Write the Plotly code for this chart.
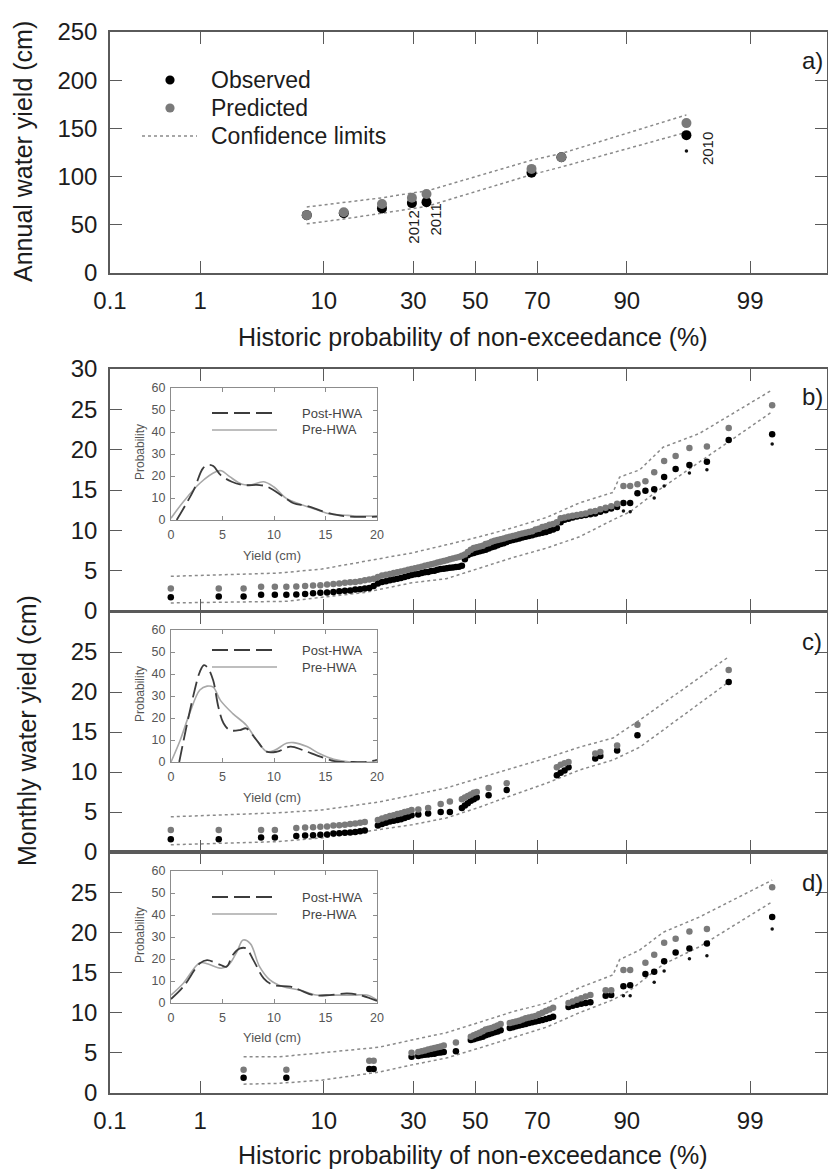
import plotly.graph_objects as go
from statistics import NormalDist

# ---------------- data ----------------
prob_ticks = [0.1, 1, 10, 30, 50, 70, 90, 99]
prob_labels = ["0.1", "1", "10", "30", "50", "70", "90", "99"]

# Panel a (annual)
p_a = [7.7, 13.3, 21.5, 29.6, 34.0, 68.3, 76.7, 96.3]
obs_a = [60, 62, 67, 72.5, 73.5, 104, 120, 143]
pred_a = [60, 63, 71.5, 78, 82, 108, 120, 155.5]
conf_up_a = [68.5, 73, 78, 83, 85, 117, 124, 164]
conf_lo_a = [51, 56, 62, 67, 69, 102, 110, 146]
star_p_a = [96.3]
star_a = [126.5]
year_labels = ["2012", "2011", "2010"]
year_p = [29.6, 34.0, 96.3]
year_y = [48, 55, 129]
year_shift = [2, 9, 21]

# Panel b (all months)
p_b = [0.5, 1.5, 2.5, 3.5, 4.5, 5.5, 6.5, 7.5, 8.5, 9.5,
       10.5, 11.5, 12.5, 13.5, 14.5, 15.5, 16.5, 17.5, 18.5, 19.5,
       20.5, 21.5, 22.5, 23.5, 24.5, 25.5, 26.5, 27.5, 28.5, 29.5,
       30.5, 31.5, 32.5, 33.5, 34.5, 35.5, 36.5, 37.5, 38.5, 39.5,
       40.5, 41.5, 42.5, 43.5, 44.5, 45.5, 46.5, 47.5, 48.5, 49.5,
       50.5, 51.5, 52.5, 53.5, 54.5, 55.5, 56.5, 57.5, 58.5, 59.5,
       60.5, 61.5, 62.5, 63.5, 64.5, 65.5, 66.5, 67.5, 68.5, 69.5,
       70.5, 71.5, 72.5, 73.5, 74.5, 75.5, 76.5, 77.5, 78.5, 79.5,
       80.5, 81.5, 82.5, 83.5, 84.5, 85.5, 86.5, 87.5, 88.5, 89.5,
       90.5, 91.5, 92.5, 93.5, 94.5, 95.5, 96.5, 97.5, 98.4, 99.4]
obs_b = [1.7, 1.8, 1.8, 2.0, 2.0, 2.0, 2.05, 2.1, 2.2, 2.25,
         2.3, 2.35, 2.45, 2.5, 2.55, 2.65, 2.7, 2.8, 2.85, 3.1,
         3.4, 3.6, 3.7, 3.8, 3.9, 4.0, 4.1, 4.2, 4.35, 4.45,
         4.55, 4.6, 4.7, 4.8, 4.85, 4.95, 5.0, 5.1, 5.2, 5.25,
         5.3, 5.35, 5.4, 5.45, 5.5, 5.6, 6.4, 6.9, 7.1, 7.2,
         7.3, 7.4, 7.5, 7.6, 7.75, 7.9, 8.0, 8.15, 8.3, 8.4,
         8.55, 8.7, 8.8, 8.9, 9.0, 9.1, 9.2, 9.3, 9.4, 9.5,
         9.6, 9.7, 9.8, 9.95, 10.1, 10.3, 11.0, 11.3, 11.45, 11.6,
         11.7, 11.8, 11.9, 12.0, 12.1, 12.3, 12.5, 12.7, 12.9, 13.4,
         13.4, 14.6, 14.9, 15.1, 16.6, 17.6, 18.1, 18.5, 21.2, 21.9]
pred_b = [2.8, 2.8, 2.8, 3.0, 3.0, 3.0, 3.05, 3.1, 3.15, 3.2,
          3.3, 3.35, 3.4, 3.5, 3.55, 3.6, 3.7, 3.8, 3.9, 4.0,
          4.2, 4.4, 4.5, 4.6, 4.7, 4.8, 4.9, 5.0, 5.1, 5.2,
          5.3, 5.4, 5.5, 5.6, 5.7, 5.8, 5.9, 6.0, 6.1, 6.2,
          6.3, 6.4, 6.5, 6.6, 6.7, 6.85, 7.0, 7.3, 7.6, 7.8,
          7.9, 8.0, 8.1, 8.3, 8.4, 8.6, 8.7, 8.8, 8.9, 9.0,
          9.1, 9.2, 9.3, 9.4, 9.5, 9.6, 9.7, 9.8, 9.9, 10.1,
          10.2, 10.4, 10.5, 10.7, 10.8, 11.0, 11.5, 11.6, 11.7, 11.8,
          11.9, 12.0, 12.1, 12.3, 12.4, 12.6, 12.8, 13.0, 13.3, 15.5,
          15.5, 15.7, 16.1, 17.2, 18.6, 19.2, 20.2, 20.4, 22.7, 25.5]
star_p_b = [89.5, 90.5, 93.5, 94.5, 96.5, 97.5, 99.4]
star_b = [12.4, 12.3, 14.0, 15.5, 17.1, 17.5, 20.7]
conf_up_p_b = [0.5, 4.8, 9.7, 20.8, 29.6, 40.3, 51.4, 62.3, 72.7, 81.1, 87.8, 88.9, 91.8, 94.4, 97.1, 99.4]
conf_up_b = [4.3, 4.7, 5.2, 6.5, 7.2, 8.2, 9.2, 10.3, 11.6, 13.4, 14.7, 16.6, 17.5, 20.3, 22.0, 27.4]
conf_lo_p_b = [0.5, 5.5, 17.5, 29.6, 40.3, 51.4, 62.3, 72.7, 81.1, 87.8, 90.5, 93.5, 96.5, 98.4, 99.4]
conf_lo_b = [1.0, 1.2, 2.3, 3.5, 4.0, 5.3, 6.6, 7.8, 9.2, 11.3, 12.3, 14.6, 17.6, 21.0, 24.7]

# Panel c (post-HWA months)
p_c = [0.5, 1.5, 3.5, 4.5,
       6.5, 7.5, 8.5, 9.5, 10.5, 11.5, 12.5, 13.5, 14.5, 15.5, 16.5, 17.5,
       20.5, 21.5, 22.5, 23.5, 24.5, 25.5, 26.5, 27.5, 28.5, 29.5,
       31.5, 34.5, 38.5, 41.5,
       45.5, 46.5, 47.5, 48.5, 49.5, 50.5,
       54.5, 60.5,
       75.5, 76.5, 77.5, 78.5,
       84.5, 85.5, 88.5, 91.5, 98.4]
obs_c = [1.6, 1.6, 1.8, 1.8,
         2.0, 2.05, 2.1, 2.15, 2.2, 2.3, 2.35, 2.4, 2.45, 2.5, 2.6, 2.7,
         3.3, 3.5, 3.65, 3.8, 3.9, 4.0, 4.1, 4.25, 4.4, 4.6,
         4.7, 4.8, 5.0, 5.0,
         5.5, 5.8, 6.1, 6.4, 6.6, 6.8,
         7.1, 7.75,
         9.6, 9.9, 10.2, 10.6,
         11.7, 12.0, 12.7, 14.6, 21.25]
pred_c = [2.75, 2.75, 2.75, 2.75,
          3.0, 3.05, 3.1, 3.15, 3.2, 3.3, 3.35, 3.4, 3.5, 3.55, 3.65, 3.75,
          4.0, 4.2, 4.35, 4.5, 4.6, 4.75, 4.85, 5.0, 5.1, 5.25,
          5.3, 5.5, 6.0, 6.3,
          6.6, 6.8, 7.0, 7.2, 7.4, 7.5,
          8.0, 8.6,
          10.6, 10.9, 11.1, 11.25,
          12.3, 12.5, 13.3, 15.9, 22.75]
conf_up_p_c = [0.5, 4.8, 9.7, 20.8, 29.6, 40.3, 51.4, 62.3, 72.7, 81.1, 87.8, 91.8, 98.4]
conf_up_c = [4.4, 4.9, 5.25, 6.25, 7.1, 8.0, 9.25, 10.5, 11.75, 13.1, 14.25, 16.5, 24.4]
conf_lo_p_c = [0.5, 4.8, 9.7, 20.8, 29.6, 40.3, 51.4, 62.3, 72.7, 81.1, 87.8, 91.8, 98.4]
conf_lo_c = [0.9, 1.3, 1.75, 2.75, 3.4, 4.25, 5.6, 7.1, 8.6, 10.25, 11.5, 13.1, 21.25]

# Panel d (pre-HWA months)
p_d = [2.5, 5.5, 18.5, 19.5, 29.5, 31.5, 32.5, 33.5, 34.5, 35.5, 36.5, 37.5, 38.5, 39.5,
       43.5, 48.5, 49.5, 50.5, 51.5, 52.5, 53.5, 54.5, 55.5, 56.5, 57.5, 58.5,
       61.5, 62.5, 63.5, 64.5, 65.5, 66.5, 67.5, 68.5, 69.5, 70.5, 71.5, 72.5, 73.5, 74.5,
       78.5, 79.5, 80.5, 81.5, 82.5, 83.5, 86.5, 87.5, 89.5, 90.5,
       92.5, 93.5, 94.5, 95.5, 96.5, 97.5, 99.4]
obs_d = [1.9, 1.9, 3.0, 3.0, 4.5, 4.6, 4.7, 4.75, 4.8, 4.85, 4.9, 5.0, 5.05, 5.1,
         5.2, 6.6, 6.7, 6.8, 6.9, 7.0, 7.2, 7.3, 7.45, 7.55, 7.65, 7.8,
         8.1, 8.2, 8.3, 8.4, 8.5, 8.6, 8.7, 8.8, 8.9, 9.0, 9.1, 9.2, 9.35, 9.5,
         10.7, 10.85, 11.0, 11.1, 11.2, 11.3, 12.1, 12.2, 13.3, 13.4,
         14.8, 15.1, 16.4, 17.5, 18.0, 18.6, 21.9]
pred_d = [2.9, 2.9, 4.0, 4.0, 5.0, 5.1, 5.2, 5.3, 5.4, 5.5, 5.6, 5.7, 5.8, 5.9,
          6.3, 7.0, 7.2, 7.35, 7.5, 7.7, 7.9, 8.0, 8.1, 8.25, 8.4, 8.6,
          8.7, 8.8, 8.9, 9.0, 9.15, 9.3, 9.4, 9.5, 9.6, 9.8, 10.0, 10.2, 10.4, 10.6,
          11.2, 11.4, 11.6, 11.8, 12.0, 12.2, 12.8, 12.8, 15.3, 15.3,
          16.2, 17.2, 18.7, 19.2, 20.1, 20.4, 25.6]
star_p_d = [89.5, 90.5, 93.5, 94.5, 96.5, 97.5, 99.4]
star_d = [12.1, 12.1, 13.8, 15.2, 16.7, 17.1, 20.4]
conf_up_p_d = [2.5, 4.8, 9.7, 20.8, 29.6, 40.3, 51.4, 62.3, 72.7, 81.1, 87.8, 88.9, 91.8, 94.4, 97.1, 99.4]
conf_up_d = [4.5, 4.5, 5.0, 5.7, 6.6, 7.5, 8.8, 10.1, 11.2, 13.1, 14.7, 16.6, 17.8, 20.0, 21.9, 26.5]
conf_lo_p_d = [2.5, 4.8, 9.7, 20.8, 29.6, 40.3, 51.4, 62.3, 72.7, 81.1, 87.8, 90.5, 94.4, 97.1, 99.4]
conf_lo_d = [1.1, 1.2, 1.6, 2.6, 3.5, 4.35, 5.6, 6.85, 8.2, 10.0, 11.6, 12.8, 16.0, 18.2, 23.8]

# Insets: probability density of monthly yield
post_x_b = [0.55, 2.2, 3.1, 3.6, 4.1, 4.8, 5.9, 7.0, 8.6, 9.4, 10.9, 11.9, 13.2, 14.8, 16.1, 17.4, 20.0]
post_y_b = [0, 13.6, 23.5, 25, 24.5, 20.5, 17.4, 15.9, 15.9, 15, 10.6, 7.6, 6.4, 3.8, 2.3, 1.5, 1.5]
pre_x_b = [0, 1.2, 2.8, 4.4, 4.9, 5.7, 6.9, 7.7, 9.0, 10.0, 11.2, 12.5, 14.1, 15.4, 16.7, 18.0, 20.0]
pre_y_b = [0.8, 8.3, 16.7, 22, 22.4, 19.7, 16.2, 15.9, 17.4, 15, 9.8, 7.3, 4.8, 2.7, 2.3, 1.8, 1.8]

post_x_c = [0.8, 1.5, 2.3, 2.8, 3.2, 3.6, 4.1, 4.6, 5.1, 5.7, 6.7, 7.3, 8.3, 9.3, 10.3, 11.6, 12.8, 14.5, 16.1, 17.7, 19.0, 20.0]
post_y_c = [0, 16, 32.7, 41, 44, 42.6, 37, 25, 17.6, 14.5, 14.5, 15.3, 10, 4.7, 4.7, 7, 5.4, 2.4, 0.2, 0, 0, 1]
pre_x_c = [0, 0.9, 1.8, 2.8, 3.5, 4.1, 4.8, 6.0, 7.3, 8.3, 9.3, 10.1, 11.2, 11.9, 13.2, 14.5, 15.8, 17.4, 20.0]
pre_y_c = [0, 10, 22, 32.7, 34.5, 34, 28, 22, 16.8, 10, 4.7, 5.4, 8.5, 8.8, 7, 3.6, 1.2, 0, 0]

post_x_d = [0, 1.2, 2.8, 3.5, 4.8, 5.4, 6.0, 6.7, 7.3, 8.0, 9.0, 9.9, 11.6, 12.5, 13.8, 15.4, 17.1, 18.3, 20.0]
post_y_d = [1.8, 7.4, 18, 19.5, 17.3, 16.5, 21.8, 24.8, 24.8, 19.5, 11.2, 8.2, 7.4, 5.9, 3.6, 3.6, 4.4, 3.6, 1]
pre_x_d = [0, 1.2, 2.8, 3.6, 4.9, 5.6, 6.4, 7.0, 7.7, 8.6, 9.6, 10.9, 12.5, 14.1, 15.8, 17.7, 19.0, 20.0]
pre_y_d = [3.6, 9, 18.3, 17.7, 15.8, 17.3, 23.3, 28.6, 27, 16.5, 10.5, 7.4, 5.9, 3.6, 3.6, 3.6, 3.6, 1.4]

legend_main = ["Observed", "Predicted", "Confidence limits"]
legend_inset = ["Post-HWA", "Pre-HWA"]

# ---------------- helpers ----------------
ND = NormalDist()


def z(p_list):
    return [ND.inv_cdf(p / 100.0) for p in p_list]


W, H = 828, 1169


def fx(px):
    return px / W


def fy(py):
    return 1 - py / H


FONT = "Liberation Sans, Arial, Helvetica, sans-serif"
TXT = "#1c1c1c"
AX = "#5a5a5a"
GRAY = "#7a7a7a"
CONF = "#8a8a8a"
PRE_C = "#a8a8a8"
POST_C = "#3c3c3c"
POST_DASH = "16px,6px"

fig = go.Figure()

panels = [
    ("x", "y", p_a, obs_a, pred_a, star_p_a, star_a, p_a, conf_up_a, p_a, conf_lo_a, 10),
    ("x2", "y2", p_b, obs_b, pred_b, star_p_b, star_b, conf_up_p_b, conf_up_b, conf_lo_p_b, conf_lo_b, 6.5),
    ("x3", "y3", p_c, obs_c, pred_c, [], [], conf_up_p_c, conf_up_c, conf_lo_p_c, conf_lo_c, 6.5),
    ("x4", "y4", p_d, obs_d, pred_d, star_p_d, star_d, conf_up_p_d, conf_up_d, conf_lo_p_d, conf_lo_d, 6.5),
]

for xa, ya, pp, ob, pr, sp, sv, cup, cu, clp, cl, ms in panels:
    fig.add_trace(go.Scatter(x=z(cup), y=cu, xaxis=xa, yaxis=ya, mode="lines",
                             line=dict(color=CONF, width=1.5, dash="dot"),
                             name="Confidence limits", hoverinfo="skip"))
    fig.add_trace(go.Scatter(x=z(clp), y=cl, xaxis=xa, yaxis=ya, mode="lines",
                             line=dict(color=CONF, width=1.5, dash="dot"),
                             name="Confidence limits", hoverinfo="skip"))
    fig.add_trace(go.Scatter(x=z(pp), y=ob, xaxis=xa, yaxis=ya, mode="markers",
                             marker=dict(color="#000000", size=ms, line=dict(width=0)),
                             name="Observed"))
    fig.add_trace(go.Scatter(x=z(pp), y=pr, xaxis=xa, yaxis=ya, mode="markers",
                             marker=dict(color=GRAY, size=ms, line=dict(width=0)),
                             name="Predicted"))
    if sp:
        fig.add_trace(go.Scatter(x=z(sp), y=sv, xaxis=xa, yaxis=ya, mode="markers",
                                 marker=dict(color="#111111", size=3.5, line=dict(width=0)),
                                 name="*"))

insets = [
    ("x5", "y5", post_x_b, post_y_b, pre_x_b, pre_y_b),
    ("x6", "y6", post_x_c, post_y_c, pre_x_c, pre_y_c),
    ("x7", "y7", post_x_d, post_y_d, pre_x_d, pre_y_d),
]
for xa, ya, px_, py_, qx, qy in insets:
    fig.add_trace(go.Scatter(x=qx, y=qy, xaxis=xa, yaxis=ya, mode="lines",
                             line=dict(color=PRE_C, width=1.6, shape="spline"),
                             name="Pre-HWA"))
    fig.add_trace(go.Scatter(x=px_, y=py_, xaxis=xa, yaxis=ya, mode="lines",
                             line=dict(color=POST_C, width=1.8, dash=POST_DASH, shape="spline"),
                             name="Post-HWA"))

# ---------------- axes ----------------
xl = ND.inv_cdf(0.001)
xr = 2.976
xt = z(prob_ticks)


def main_x(show_labels, anchor):
    return dict(domain=[fx(110), fx(827)], range=[xl, xr], anchor=anchor, automargin=False,
                tickvals=xt, ticktext=prob_labels, ticks="inside", ticklen=12,
                tickwidth=1.3, tickcolor=AX, showline=True, linecolor=AX, linewidth=1.5,
                mirror="ticks", showgrid=False, zeroline=False,
                showticklabels=show_labels, ticklabelstandoff=5,
                tickfont=dict(size=24, color=TXT, family=FONT))


def main_y(dom, rng, tv, tt, anchor):
    return dict(domain=dom, range=rng, anchor=anchor, tickvals=tv, ticktext=tt,
                automargin=False,
                ticks="inside", ticklen=12, tickwidth=1.3, tickcolor=AX,
                showline=True, linecolor=AX, linewidth=1.5, mirror="ticks",
                showgrid=False, zeroline=False, ticklabelstandoff=6,
                tickfont=dict(size=24, color=TXT, family=FONT))


def inset_x(anchor):
    return dict(domain=[fx(171), fx(377)], range=[0, 20], anchor=anchor, automargin=False,
                tickvals=[0, 5, 10, 15, 20], ticks="inside", ticklen=4, tickwidth=1,
                tickcolor="#8c8c8c", showline=True, linecolor="#8c8c8c", linewidth=1.2,
                mirror="ticks", showgrid=False, zeroline=False, ticklabelstandoff=3,
                tickfont=dict(size=12.5, color="#555555", family=FONT))


def inset_y(dom, anchor):
    return dict(domain=dom, range=[0, 60], anchor=anchor, automargin=False,
                tickvals=[0, 10, 20, 30, 40, 50, 60], ticks="inside", ticklen=4, tickwidth=1,
                tickcolor="#8c8c8c", showline=True, linecolor="#8c8c8c", linewidth=1.2,
                mirror="ticks", showgrid=False, zeroline=False, ticklabelstandoff=2,
                tickfont=dict(size=12.5, color="#555555", family=FONT))


y_a_vals = [0, 50, 100, 150, 200, 250]
y_m_vals = [0, 5, 10, 15, 20, 25, 30]
y_b_text = ["0", "5", "10", "15", "20", "25", "30"]
y_cd_text = ["0", "5", "10", "15", "20", "25", ""]

fig.update_layout(
    template="none",
    width=W, height=H, margin=dict(l=0, r=0, t=0, b=0, pad=0, autoexpand=False),
    paper_bgcolor="white", plot_bgcolor="rgba(0,0,0,0)",
    font=dict(family=FONT, color=TXT),
    showlegend=False,
    xaxis=main_x(True, "y"),
    yaxis=main_y([fy(273), fy(32)], [0, 250], y_a_vals, [str(v) for v in y_a_vals], "x"),
    xaxis2=main_x(False, "y2"),
    yaxis2=main_y([fy(611), fy(369)], [0, 30], y_m_vals, y_b_text, "x2"),
    xaxis3=main_x(False, "y3"),
    yaxis3=main_y([fy(852), fy(612)], [0, 30], y_m_vals, y_cd_text, "x3"),
    xaxis4=main_x(True, "y4"),
    yaxis4=main_y([fy(1093), fy(852)], [0, 30], y_m_vals, y_cd_text, "x4"),
    xaxis5=inset_x("y5"), yaxis5=inset_y([fy(520), fy(388)], "x5"),
    xaxis6=inset_x("y6"), yaxis6=inset_y([fy(762), fy(630)], "x6"),
    xaxis7=inset_x("y7"), yaxis7=inset_y([fy(1003), fy(871)], "x7"),
)

# ---------------- legends (keys drawn in paper space) ----------------
shapes = []
ann = []
r = 4.6
for (cy, col) in [(80, "#000000"), (108, GRAY)]:
    shapes.append(dict(type="circle", xref="paper", yref="paper",
                       x0=fx(170 - r), x1=fx(170 + r), y0=fy(cy + r), y1=fy(cy - r),
                       fillcolor=col, line=dict(width=0)))
shapes.append(dict(type="line", xref="paper", yref="paper", x0=fx(142), x1=fx(197),
                   y0=fy(136), y1=fy(136), line=dict(color=CONF, width=1.5, dash="dot")))
for txt, cy in zip(legend_main, [80, 108, 136]):
    ann.append(dict(text=txt, x=fx(209), y=fy(cy), xanchor="left", yanchor="middle",
                    font=dict(size=23, color=TXT)))

for y_post in [413, 650, 897]:
    y_pre = y_post + 17
    shapes.append(dict(type="line", xref="paper", yref="paper", x0=fx(212), x1=fx(277),
                       y0=fy(y_post), y1=fy(y_post),
                       line=dict(color=POST_C, width=1.8, dash=POST_DASH)))
    shapes.append(dict(type="line", xref="paper", yref="paper", x0=fx(212), x1=fx(277),
                       y0=fy(y_pre), y1=fy(y_pre), line=dict(color=PRE_C, width=1.6)))
    for txt, cy in zip(legend_inset, [y_post, y_pre]):
        ann.append(dict(text=txt, x=fx(300), y=fy(cy), xanchor="left", yanchor="middle",
                        font=dict(size=13, color="#444444")))

# ---------------- titles & labels ----------------
c = dict(xanchor="center", yanchor="middle")
ann.append(dict(text="Annual water yield (cm)", x=fx(23), y=fy(152), textangle=-90,
                font=dict(size=25), **c))
ann.append(dict(text="Monthly water yield (cm)", x=fx(27), y=fy(731), textangle=-90,
                font=dict(size=25), **c))
ann.append(dict(text="Historic probability of non-exceedance (%)", x=fx(473), y=fy(337),
                font=dict(size=25), **c))
ann.append(dict(text="Historic probability of non-exceedance (%)", x=fx(473), y=fy(1155),
                font=dict(size=25), **c))
for lab, yy in zip(["a)", "b)", "c)", "d)"], [60, 397, 641, 882]):
    ann.append(dict(text=lab, x=fx(812), y=fy(yy), font=dict(size=24), **c))
for ymid, ybot in [(452, 555), (694, 797), (935, 1037)]:
    ann.append(dict(text="Probability", x=fx(140), y=fy(ymid), textangle=-90,
                    font=dict(size=12, color="#555555"), **c))
    ann.append(dict(text="Yield (cm)", x=fx(272), y=fy(ybot),
                    font=dict(size=13, color="#555555"), **c))
for a in ann:
    a.setdefault("xref", "paper")
    a.setdefault("yref", "paper")
    a["showarrow"] = False
for t, p, yv, sh in zip(year_labels, z(year_p), year_y, year_shift):
    ann.append(dict(text=t, x=p, y=yv, xref="x", yref="y", textangle=-90, showarrow=False,
                    xshift=sh, font=dict(size=15, color=TXT)))

fig.update_layout(annotations=ann, shapes=shapes)
fig.write_html("out.html",
               config={"displayModeBar": False},
               post_script="document.body.style.margin='0';document.body.style.overflow='hidden';")
